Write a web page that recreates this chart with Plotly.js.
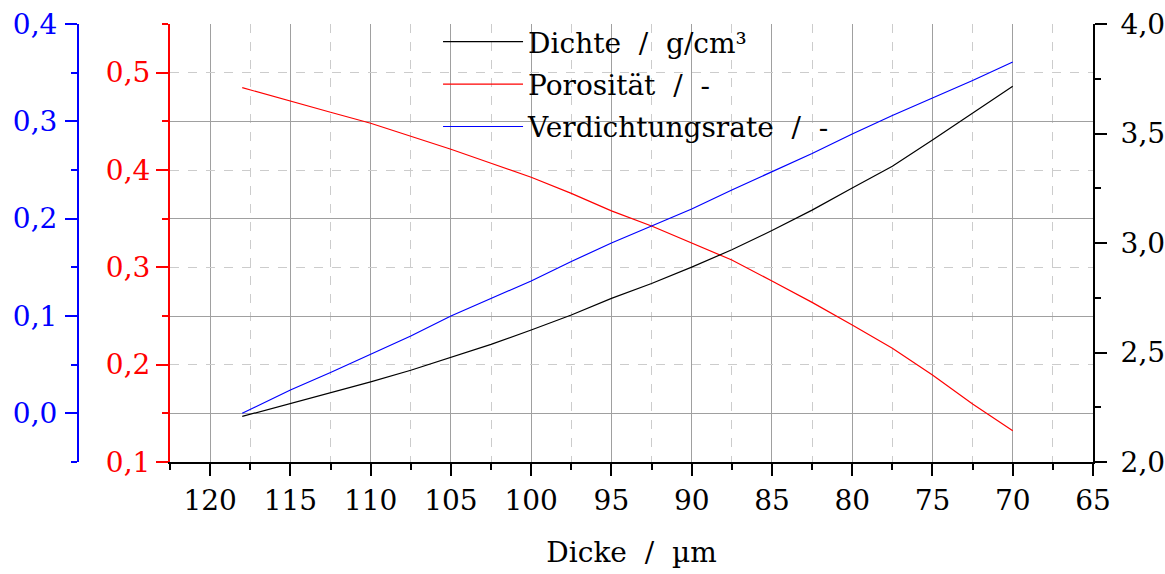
<!DOCTYPE html>
<html>
<head>
<meta charset="utf-8">
<script src="https://cdn.plot.ly/plotly-3.0.1.min.js"></script>
<style>html,body{margin:0;padding:0;background:#fff;}#chart{width:1165px;height:574px;}</style>
</head>
<body>
<div id="chart"></div>
<script>
// Dicke (µm)
const dicke = [118, 115, 112.5, 110, 107.5, 105, 102.5, 100, 97.5, 95, 92.5, 90, 87.5, 85, 82.5, 80, 77.5, 75, 72.5, 70];
// Dichte (g/cm³) - right axis
const dichte = [2.208, 2.266, 2.315, 2.366, 2.419, 2.479, 2.537, 2.603, 2.671, 2.747, 2.815, 2.890, 2.969, 3.057, 3.150, 3.251, 3.350, 3.470, 3.593, 3.716];
// Porosität (-) - red axis
const porositaet = [0.4846, 0.4712, 0.4593, 0.4480, 0.4350, 0.4213, 0.4069, 0.3925, 0.3760, 0.3580, 0.3425, 0.3253, 0.3075, 0.2860, 0.2640, 0.2408, 0.2168, 0.1894, 0.1596, 0.1322];
// Verdichtungsrate (-) - blue axis
const verdichtung = [0.000, 0.024, 0.042, 0.061, 0.0795, 0.100, 0.118, 0.136, 0.156, 0.175, 0.1925, 0.210, 0.2295, 0.248, 0.267, 0.287, 0.306, 0.324, 0.342, 0.361];

const names = ['Dichte \u00a0/ \u00a0g/cm³', 'Porosität \u00a0/ \u00a0-', 'Verdichtungsrate \u00a0/ \u00a0-'];
const xTitle = 'Dicke \u00a0/ \u00a0µm';

const FONT = 'DejaVu Serif';
const FS = 28;

const traces = [
  {x: dicke, y: dichte, name: names[0], legendgroup: 'g1', type: 'scatter', mode: 'lines', yaxis: 'y3',
   line: {color: '#000000', width: 1.2}},
  {x: dicke, y: porositaet, name: names[1], legendgroup: 'g2', type: 'scatter', mode: 'lines', yaxis: 'y',
   line: {color: '#ff0000', width: 1.2}},
  {x: dicke, y: verdichtung, name: names[2], legendgroup: 'g3', type: 'scatter', mode: 'lines', yaxis: 'y2',
   line: {color: '#0000ff', width: 1.2}}
];

const layout = {
  width: 1165, height: 574,
  margin: {l: 20, r: 72, t: 24, b: 112, pad: 0},
  paper_bgcolor: '#ffffff', plot_bgcolor: '#ffffff',
  separators: ', ',
  font: {family: FONT, size: FS, color: '#000'},
  showlegend: true,
  legend: {x: 0.3896, y: 1.016, xanchor: 'left', yanchor: 'top', bgcolor: 'rgba(0,0,0,0)',
           borderwidth: 0, itemwidth: 80, font: {family: FONT, size: FS, color: '#000'},
           tracegroupgap: 3},
  xaxis: {
    domain: [0.1398, 1], range: [122.5, 65], tick0: 0, dtick: 5,
    ticks: 'outside', ticklen: 12, tickwidth: 2, tickcolor: '#000',
    showline: true, linecolor: '#000', linewidth: 2, zeroline: false,
    showgrid: true, gridcolor: '#a0a0a0', gridwidth: 1, griddash: 'solid',
    minor: {dtick: 2.5, tick0: 0, ticks: 'outside', ticklen: 6, tickwidth: 2, tickcolor: '#000',
            showgrid: true, gridcolor: '#cccccc', gridwidth: 1, griddash: 'dash'},
    tickfont: {family: FONT, size: FS, color: '#000'},
    title: {text: xTitle, font: {family: FONT, size: FS, color: '#000'}, standoff: 27}
  },
  yaxis: {
    anchor: 'x', side: 'left', range: [0.1, 0.55], tick0: 0, dtick: 0.1, tickformat: '.1f',
    ticks: 'outside', ticklen: 12, tickwidth: 2, tickcolor: '#ff0000',
    showline: true, linecolor: '#ff0000', linewidth: 2, zeroline: false,
    showgrid: true, gridcolor: '#cccccc', gridwidth: 1, griddash: 'dash',
    minor: {dtick: 0.05, tick0: 0, ticks: 'outside', ticklen: 6, tickwidth: 2, tickcolor: '#ff0000',
            showgrid: true, gridcolor: '#a0a0a0', gridwidth: 1, griddash: 'solid'},
    tickfont: {family: FONT, size: FS, color: '#ff0000'}
  },
  yaxis2: {
    overlaying: 'y', anchor: 'free', position: 0.05405, side: 'left',
    range: [-0.05, 0.4], tick0: 0, dtick: 0.1, tickformat: '.1f',
    ticks: 'outside', ticklen: 12, tickwidth: 2, tickcolor: '#0000ff', ticklabelstandoff: 2,
    showline: true, linecolor: '#0000ff', linewidth: 2, zeroline: false, showgrid: false,
    minor: {dtick: 0.05, tick0: 0, ticks: 'outside', ticklen: 6, tickwidth: 2, tickcolor: '#0000ff', showgrid: false},
    tickfont: {family: FONT, size: FS, color: '#0000ff'}
  },
  yaxis3: {
    overlaying: 'y', anchor: 'x', side: 'right',
    range: [2, 4], tick0: 0, dtick: 0.5, tickformat: '.1f',
    ticks: 'outside', ticklen: 12, tickwidth: 2, tickcolor: '#000', ticklabelstandoff: 8,
    showline: true, linecolor: '#000', linewidth: 2, zeroline: false, showgrid: false,
    minor: {dtick: 0.25, tick0: 0, ticks: 'outside', ticklen: 6, tickwidth: 2, tickcolor: '#000', showgrid: false},
    tickfont: {family: FONT, size: FS, color: '#000'}
  }
};

Plotly.newPlot('chart', traces, layout, {displayModeBar: false, staticPlot: true});
</script>
</body>
</html>
